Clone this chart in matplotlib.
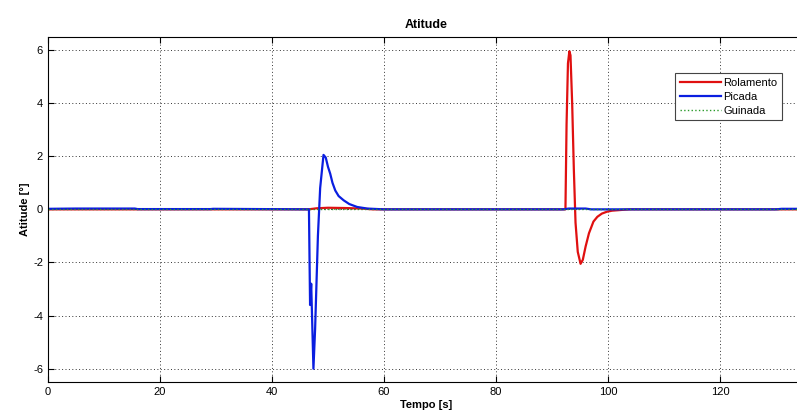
import matplotlib.pyplot as plt

plt.rcParams['font.family'] = ['Liberation Sans', 'DejaVu Sans']
plt.rcParams['font.size'] = 8
plt.rcParams['axes.unicode_minus'] = False

# Rolamento (roll)
t_rolamento = [0, 20, 46.5, 48, 50, 53, 56, 58, 92.4, 92.6, 92.85, 93.1, 93.3, 93.6, 93.9,
               94.2, 94.6, 95.1, 95.5, 96.0, 96.6, 97.4, 98.1, 98.9, 99.8, 100.7, 102.5, 104, 135]
rolamento = [0, 0, 0, 0.04, 0.06, 0.05, 0.03, 0, 0, 3.2, 5.5, 5.95, 5.8, 4.0, 1.5,
             -0.5, -1.6, -2.05, -1.9, -1.4, -0.9, -0.46, -0.28, -0.16, -0.09, -0.05, -0.02, 0, 0]

# Picada (pitch)
t_picada = [0, 5, 15.5, 16, 29, 29.5, 46.6, 46.8, 47.0, 47.4, 47.7, 48.2, 48.6, 49.2,
            49.6, 50.0, 50.4, 50.8, 51.3, 51.9, 52.8, 53.8, 55.2, 57.0, 60,
            92, 93, 96, 97, 130, 131, 135]
picada = [0.02, 0.03, 0.03, 0.01, 0.01, 0.02, 0, -3.6, -2.8, -6.0, -4.5, -1.0, 0.8, 2.05,
          1.95, 1.6, 1.34, 1.0, 0.71, 0.5, 0.34, 0.2, 0.09, 0.03, 0,
          0, 0.03, 0.03, 0, 0, 0.02, 0.02]

# Guinada (yaw)
t_guinada = [0, 135]
guinada = [0, 0]

fig = plt.figure(figsize=(7.97, 4.19), dpi=100)
ax = fig.add_axes([0.0602, 0.0883, 0.9486, 0.8241])

ax.plot(t_rolamento, rolamento, color='#e01010', lw=1.6, label='Rolamento')
ax.plot(t_picada, picada, color='#0a1ee0', lw=1.6, label='Picada')
ax.plot(t_guinada, guinada, color='#2a9a2a', lw=1.0, ls=':', label='Guinada')

ax.set_xlim(0, 135)
ax.set_ylim(-6.5, 6.5)
ax.set_xticks(range(0, 121, 20))
ax.set_yticks(range(-6, 7, 2))
ax.grid(True, color='#333333', ls=(0, (1, 2.5)), lw=0.7)
ax.tick_params(direction='in', top=True, right=True, length=4, width=0.8)
for s in ax.spines.values():
    s.set_linewidth(0.8)

ax.set_title('Atitude', fontweight='bold', fontsize=9)
ax.set_xlabel('Tempo [s]', fontweight='bold', labelpad=2)
ax.set_ylabel('Atitude [°]', fontweight='bold', labelpad=2)

leg = ax.legend(loc='upper right', bbox_to_anchor=(0.9705, 0.894), borderaxespad=0,
                fancybox=False, edgecolor='#444444', framealpha=1, handlelength=3.7,
                handletextpad=0.2, labelspacing=0.35, fontsize=8)
leg.get_frame().set_linewidth(0.8)

fig.savefig('out.png', dpi=100)
